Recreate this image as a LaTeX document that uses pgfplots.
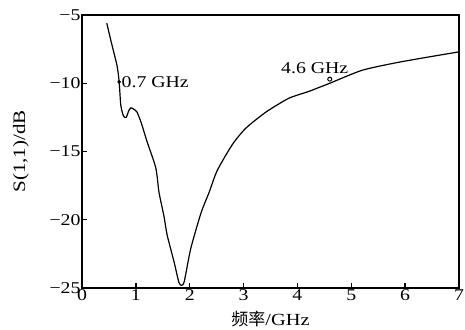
\documentclass[border=0pt]{standalone}
\usepackage{pgfplots}
\pgfplotsset{compat=1.18}
\usepackage{fontspec}
\setmainfont{Liberation Serif}[FakeStretch=1.2]
\newfontfamily\cjk{Noto Sans CJK SC}
\begin{document}
\begin{tikzpicture}
\begin{axis}[
  at={(82pt,41pt)}, anchor=south west,
  scale only axis, width=377pt, height=273pt,
  xmin=0, xmax=7, ymin=-25, ymax=-5,
  xtick={0,1,...,7}, ytick={-25,-20,...,-5},
  yticklabels={−25,−20,−15,−10,−5},
  tick align=inside, tick pos=left,
  major tick length=5pt,
  axis line style={line width=1.3pt},
  every tick/.style={line width=1.3pt, black},
  /pgf/number format/assume math mode=true,
  tick label style={font=\fontsize{16.5}{18}\selectfont},
  xticklabel style={yshift=2pt},
  yticklabel style={xshift=2pt},
  xlabel={{\cjk 频率}/GHz},
  ylabel={S(1,1)/dB},
  xlabel style={font=\fontsize{17}{19}\selectfont, at={(axis description cs:0.5,-0.114)}, anchor=center},
  ylabel style={font=\fontsize{17.5}{19}\selectfont, at={(axis description cs:-0.162,0.5)}, anchor=center},
]
\addplot[black, line width=1.2pt, smooth, tension=0.4] coordinates {
(0.46,-5.6)(0.55,-7.1)(0.65,-8.7)(0.69,-9.9)(0.72,-11.6)(0.77,-12.4)(0.82,-12.5)(0.87,-12.0)(0.91,-11.8)(0.96,-11.9)(1.02,-12.1)(1.1,-12.9)(1.21,-14.3)(1.37,-16.2)(1.43,-18.0)(1.52,-19.7)(1.58,-21.1)(1.71,-23.1)(1.80,-24.6)(1.85,-24.8)(1.90,-24.5)(2.02,-22.1)(2.21,-19.5)(2.36,-18.0)(2.51,-16.4)(2.79,-14.5)(3.04,-13.3)(3.42,-12.1)(3.84,-11.1)(4.21,-10.6)(4.6,-10.0)(5.2,-9.05)(5.83,-8.5)(6.4,-8.1)(7.0,-7.7)
};
\addplot[only marks, mark=*, mark size=1.6pt, black,
  nodes near coords={0.7 GHz}, every node near coord/.style={anchor=west, font=\fontsize{16.5}{18}\selectfont, xshift=-1pt}] coordinates {(0.69,-9.9)};
\addplot[only marks, mark=o, mark size=2pt, black, line width=1pt,
  nodes near coords={4.6 GHz}, every node near coord/.style={anchor=south, font=\fontsize{16.5}{18}\selectfont, xshift=-15pt, yshift=2pt}] coordinates {(4.6,-9.7)};
\end{axis}
\pgfresetboundingbox
\useasboundingbox (0,0) rectangle (465pt,329pt);
\end{tikzpicture}
\end{document}
